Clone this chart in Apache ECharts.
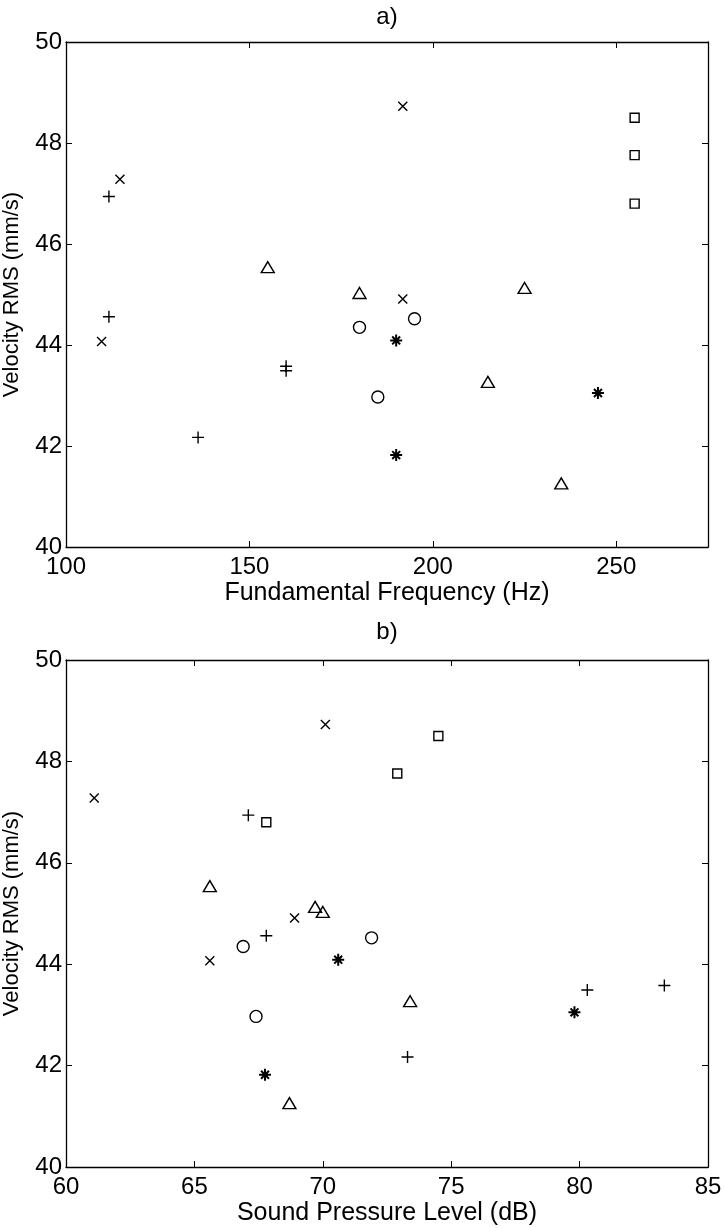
<!DOCTYPE html>
<html>
<head>
<meta charset="utf-8">
<script src="https://cdn.jsdelivr.net/npm/echarts@6/dist/echarts.min.js"></script>
<style>
html,body{margin:0;padding:0;background:#fff;}
#main{width:724px;height:1228px;}
</style>
</head>
<body>
<div id="main"></div>
<script>
// ---- Data (velocity RMS shared by both panels) ----
const plusVel = [46.94, 44.56, 43.58, 43.49, 42.17];
const plusF0  = [111.7, 111.7, 160, 160, 136];
const plusSPL = [67.1, 67.8, 83.3, 80.3, 73.3];

const crossVel = [48.73, 47.28, 44.91, 44.07];
const crossF0  = [191.8, 114.7, 191.8, 109.7];
const crossSPL = [70.1, 61.1, 68.9, 65.6];

const triVel = [45.54, 45.03, 45.13, 43.27, 41.26];
const triF0  = [155, 180, 225, 215, 235];
const triSPL = [65.6, 70.0, 69.7, 73.4, 68.7];

const circVel = [44.35, 44.52, 42.97];
const circF0  = [180, 195, 185];
const circSPL = [66.9, 71.9, 67.4];

const sqVel = [48.50, 47.76, 46.80];
const sqF0  = [255, 255, 255];
const sqSPL = [74.5, 72.9, 67.8];

const astVel = [44.09, 43.05, 41.82];
const astF0  = [190, 245, 190];
const astSPL = [70.6, 79.8, 67.75];

const f0Ticks = [100, 150, 200, 250];
const splTicks = [60, 65, 70, 75, 80, 85];
const velTicks = [40, 42, 44, 46, 48, 50];

const titleA = 'a)', titleB = 'b)';
const xNameA = 'Fundamental Frequency (Hz)';
const xNameB = 'Sound Pressure Level (dB)';
const yName = 'Velocity RMS (mm/s)';

// ---- Styles ----
const FONT = 'Liberation Sans, Arial, Helvetica, sans-serif';
const BLACK = '#000';
const markers = {
  plus:  {symbol: 'path://M0,5L10,5M5,0L5,10', size: 12},
  cross: {symbol: 'path://M0,0L10,10M10,0L0,10', size: 9},
  tri:   {symbol: 'triangle', size: [13, 11]},
  circ:  {symbol: 'circle', size: 12},
  sq:    {symbol: 'rect', size: 9},
  ast:   {symbol: 'path://M5,0L5,10M0,5L10,5M1.7,1.7L8.3,8.3M8.3,1.7L1.7,8.3', size: 12}
};

function zip(xs, ys) { return xs.map((x, i) => [x, ys[i]]); }

const grids = [
  {left: 66, top: 42, width: 642, height: 505, containLabel: false, outerBoundsMode: 'none'},
  {left: 66, top: 660, width: 642, height: 507, containLabel: false, outerBoundsMode: 'none'}
];

function baseAxis(extra) {
  return Object.assign({
    type: 'value',
    axisLine: {show: true, onZero: false, lineStyle: {color: BLACK, width: 1.3}},
    axisTick: {show: true, inside: true, length: 6, lineStyle: {color: BLACK, width: 1}},
    splitLine: {show: false},
    axisLabel: {show: true, color: BLACK, fontFamily: FONT, fontSize: 24},
    nameTextStyle: {color: BLACK, fontFamily: FONT, fontSize: 24}
  }, extra);
}

const xNameStyle = {color: BLACK, fontFamily: FONT, fontSize: 25};

const xAxes = [
  baseAxis({gridIndex: 0, position: 'bottom', min: f0Ticks[0], max: 275, interval: 50,
    axisLabel: {color: BLACK, fontFamily: FONT, fontSize: 24, margin: 8, showMaxLabel: false},
    name: xNameA, nameLocation: 'middle', nameGap: 34, nameTextStyle: xNameStyle}),
  baseAxis({gridIndex: 0, position: 'top', min: f0Ticks[0], max: 275, interval: 50,
    axisLabel: {show: false}, name: titleA, nameLocation: 'middle', nameGap: 13}),
  baseAxis({gridIndex: 1, position: 'bottom', min: splTicks[0], max: splTicks[splTicks.length-1], interval: 5,
    axisLabel: {color: BLACK, fontFamily: FONT, fontSize: 24, margin: 8},
    name: xNameB, nameLocation: 'middle', nameGap: 34, nameTextStyle: xNameStyle}),
  baseAxis({gridIndex: 1, position: 'top', min: splTicks[0], max: splTicks[splTicks.length-1], interval: 5,
    axisLabel: {show: false}, name: titleB, nameLocation: 'middle', nameGap: 16})
];

const yAxes = [];
[0, 1].forEach(g => {
  yAxes.push(baseAxis({gridIndex: g, position: 'left', min: velTicks[0], max: velTicks[velTicks.length-1], interval: 2,
    axisLabel: {color: BLACK, fontFamily: FONT, fontSize: 24, margin: 4},
    name: yName, nameLocation: 'middle', nameGap: 43,
    nameTextStyle: {color: BLACK, fontFamily: FONT, fontSize: 22}}));
  yAxes.push(baseAxis({gridIndex: g, position: 'right', min: velTicks[0], max: velTicks[velTicks.length-1], interval: 2,
    axisLabel: {show: false}}));
});

function mk(key, data, g) {
  const m = markers[key];
  const hollow = (key === 'tri' || key === 'circ' || key === 'sq');
  return {
    type: 'scatter',
    xAxisIndex: g * 2,
    yAxisIndex: g * 2,
    data: data,
    symbol: m.symbol,
    symbolSize: m.size,
    silent: true,
    itemStyle: {
      color: hollow ? 'rgba(255,255,255,0)' : BLACK,
      borderColor: BLACK,
      borderWidth: key === 'ast' ? 2 : 1.4,
      opacity: 1
    },
    z: 5
  };
}

const series = [
  mk('plus', zip(plusF0, plusVel), 0),
  mk('cross', zip(crossF0, crossVel), 0),
  mk('tri', zip(triF0, triVel), 0),
  mk('circ', zip(circF0, circVel), 0),
  mk('sq', zip(sqF0, sqVel), 0),
  mk('ast', zip(astF0, astVel), 0),
  mk('plus', zip(plusSPL, plusVel), 1),
  mk('cross', zip(crossSPL, crossVel), 1),
  mk('tri', zip(triSPL, triVel), 1),
  mk('circ', zip(circSPL, circVel), 1),
  mk('sq', zip(sqSPL, sqVel), 1),
  mk('ast', zip(astSPL, astVel), 1)
];

const chart = echarts.init(document.getElementById('main'), null, {renderer: 'canvas'});
chart.setOption({
  animation: false,
  backgroundColor: '#fff',
  grid: grids,
  xAxis: xAxes,
  yAxis: yAxes,
  series: series
});
</script>
</body>
</html>
